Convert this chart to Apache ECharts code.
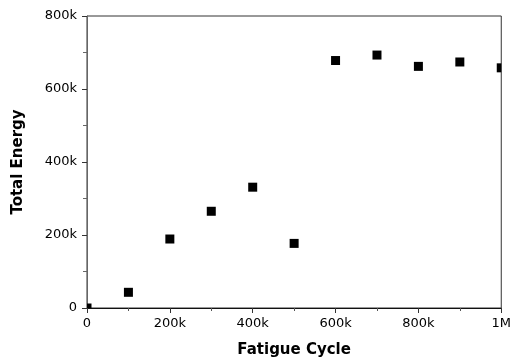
<!DOCTYPE html>
<html>
<head>
<meta charset="utf-8">
<script src="https://cdn.jsdelivr.net/npm/echarts@6/dist/echarts.min.js"></script>
<style>
  html, body { margin: 0; padding: 0; background: #fff; }
  #chart { width: 514px; height: 363px; }
</style>
</head>
<body>
<div id="chart"></div>
<script>
// Fatigue cycle count vs. total energy
const cycles = [0, 100000, 200000, 300000, 400000, 500000, 600000, 700000, 800000, 900000, 1000000];
const energy = [0, 43000, 189000, 265000, 331000, 177000, 678000, 693000, 662000, 674000, 658000];

const xTicks = { 0: '0', 200000: '200k', 400000: '400k', 600000: '600k', 800000: '800k', 1000000: '1M' };
const yTicks = { 0: '0', 200000: '200k', 400000: '400k', 600000: '600k', 800000: '800k' };

const FONT = 'DejaVu Sans';
const MARK = 9;

const chart = echarts.init(document.getElementById('chart'), null, { renderer: 'canvas' });

// square markers, cropped to the plotting frame
function renderSquare(params, api) {
  const p = api.coord([api.value(0), api.value(1)]);
  const cs = params.coordSys;
  const shape = echarts.graphic.clipRectByRect(
    { x: p[0] - MARK / 2, y: p[1] - MARK / 2, width: MARK, height: MARK },
    { x: cs.x, y: cs.y, width: cs.width, height: cs.height }
  );
  if (!shape) return null;
  return { type: 'rect', shape: shape, style: { fill: '#000' } };
}

chart.setOption({
  animation: false,
  backgroundColor: '#fff',
  grid: {
    left: 87, right: 11, top: 16, bottom: 54,
    show: true, borderColor: '#333', borderWidth: 1, backgroundColor: 'transparent'
  },
  xAxis: {
    type: 'value',
    min: 0, max: 1000000, interval: 200000,
    name: 'Fatigue Cycle',
    nameLocation: 'middle',
    nameGap: 35,
    nameMoveOverlap: false,
    nameTextStyle: { fontFamily: FONT, fontWeight: 'bold', fontSize: 15, color: '#000' },
    axisLine: { show: true, onZero: false, lineStyle: { color: '#111', width: 1 } },
    axisTick: { show: true, inside: false, length: 5, lineStyle: { color: '#333' } },
    minorTick: { show: true, splitNumber: 2, length: 3, lineStyle: { color: '#555' } },
    splitLine: { show: false },
    axisLabel: {
      margin: 9, fontFamily: FONT, fontSize: 13, color: '#000',
      formatter: v => xTicks[v] !== undefined ? xTicks[v] : ''
    }
  },
  yAxis: {
    type: 'value',
    min: 0, max: 800000, interval: 200000,
    name: 'Total Energy',
    nameLocation: 'middle',
    nameGap: 61,
    nameMoveOverlap: false,
    nameRotate: 90,
    nameTextStyle: { fontFamily: FONT, fontWeight: 'bold', fontSize: 15, color: '#000' },
    axisLine: { show: true, onZero: false, lineStyle: { color: '#666', width: 1 } },
    axisTick: { show: true, inside: false, length: 5, lineStyle: { color: '#333' } },
    minorTick: { show: true, splitNumber: 2, length: 4, lineStyle: { color: '#666' } },
    splitLine: { show: false },
    axisLabel: {
      margin: 10, fontFamily: FONT, fontSize: 13, color: '#000',
      formatter: v => yTicks[v] !== undefined ? yTicks[v] : ''
    }
  },
  series: [{
    type: 'custom',
    renderItem: renderSquare,
    encode: { x: 0, y: 1 },
    data: cycles.map((c, i) => [c, energy[i]]),
    z: 3
  }]
});
</script>
</body>
</html>
